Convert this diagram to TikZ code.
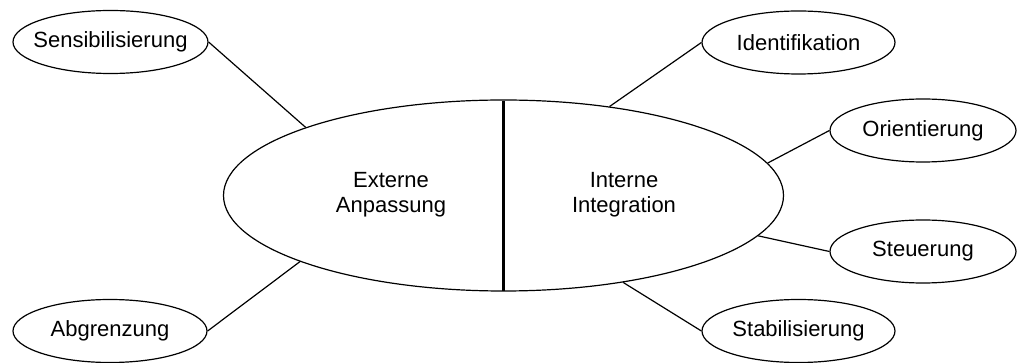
\documentclass[tikz,border=0pt]{standalone}
\usepackage{fontspec}
\setmainfont{Liberation Sans}
\usetikzlibrary{shapes.geometric}

\tikzset{
  topic/.style={ellipse, draw=black, line width=1.2pt, inner sep=0pt,
    minimum height=63pt},
  core/.style={ellipse, draw=black, line width=1.2pt, inner sep=0pt,
    minimum width=560pt, minimum height=191pt},
  label/.style={align=center, inner sep=0pt,
    font=\fontsize{22}{25}\selectfont, text=black},
  link/.style={draw=black, line width=1.2pt},
  divider/.style={draw=black, line width=3.2pt}
}

\begin{document}
\begin{tikzpicture}[x=1pt, y=-1pt]
  \useasboundingbox (0,0) rectangle (1018,363);

  % central culture ellipse, split into its two halves
  \node[core] (c) at (503.5,195.5) {};
  \draw[divider] ([yshift=-1.5pt]c.north) -- ([yshift=1pt]c.south);
  \node[label] (ext) at (391,195) {Externe\\Anpassung};
  \node[label] (int) at (624,195) {Interne\\Integration};

  % surrounding functions: outline first, then its caption
  \node[topic, minimum width=195pt] (sens) at (110.5,42) {};
  \node[label] (sens-t) at (sens.center) {Sensibilisierung};
  \node[topic, minimum width=194pt] (abgr) at (110,331) {};
  \node[label] (abgr-t) at (abgr.center) {Abgrenzung};
  \node[topic, minimum width=193pt] (ident) at (798.5,42.5) {};
  \node[label] (ident-t) at (ident.center) {Identifikation};
  \node[topic, minimum width=186pt] (orient) at (923,130.5) {};
  \node[label] (orient-t) at (orient.center) {Orientierung};
  \node[topic, minimum width=186pt] (steu) at (923,251.5) {};
  \node[label] (steu-t) at (steu.center) {Steuerung};
  \node[topic, minimum width=193pt] (stab) at (798.5,331) {};
  \node[label] (stab-t) at (stab.center) {Stabilisierung};

  % connectors to the central ellipse
  \draw[link] (sens.east) -- (c.161);
  \draw[link] (abgr.east) -- (c.198.8);
  \draw[link] (ident.west) -- (c.40);
  \draw[link] (orient.west) -- (c.7.2);
  \draw[link] (steu.west) -- (c.-9.5);
  \draw[link] (stab.west) -- (c.-36.1);
\end{tikzpicture}
\end{document}
